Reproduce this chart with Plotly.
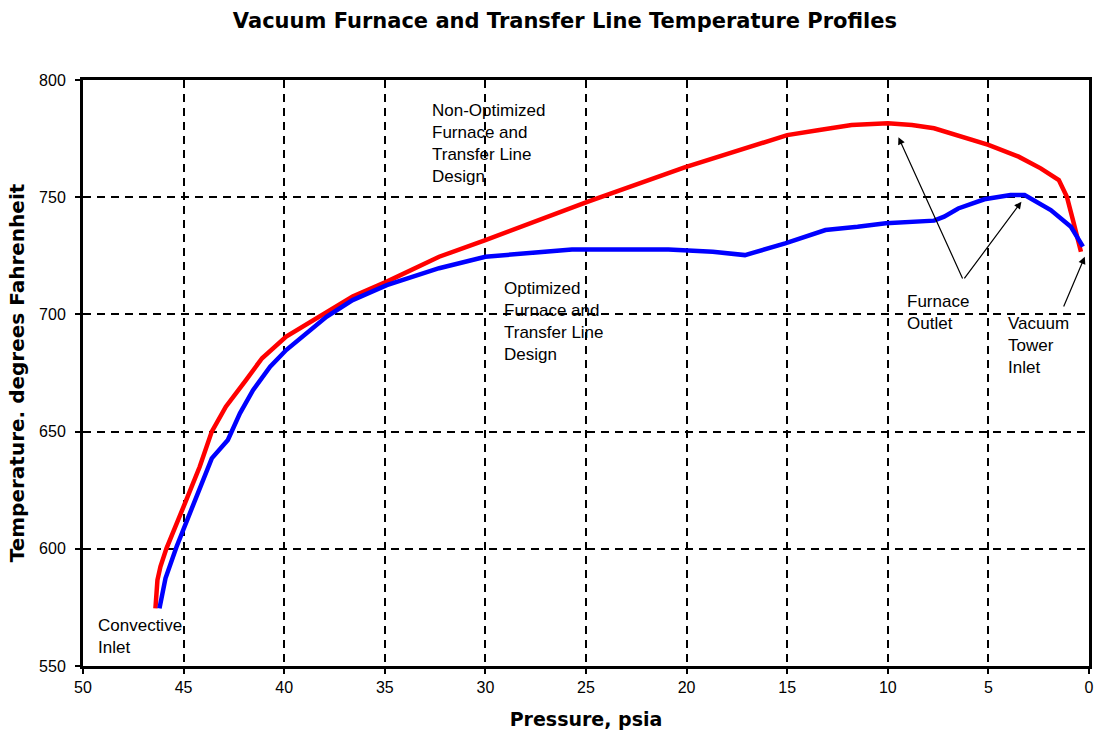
import plotly.graph_objects as go

# Non-optimized design (red)
red_p = [46.4, 46.3, 46.15, 45.85, 45.0, 44.2, 43.6, 42.9, 41.9, 41.1, 39.9, 38.4, 36.6, 34.9,
         32.3, 30.0, 24.9, 20.1, 15.0, 13.4, 11.8, 10.0, 8.8, 7.7, 6.3, 5.0, 3.5, 2.4, 1.5, 1.1, 0.8, 0.4]
red_t = [574.6, 586.7, 592.4, 600.2, 618.0, 635.0, 650.0, 660.6, 672.0, 681.3, 690.5, 698.3, 707.6, 714.0,
         724.6, 731.7, 748.1, 762.7, 776.5, 778.7, 780.8, 781.5, 780.8, 779.4, 775.8, 772.3, 767.3, 762.3,
         757.3, 750.2, 740.3, 726.7]

# Optimized design (blue)
blue_p = [46.2, 45.9, 45.35, 44.5, 43.9, 43.6, 42.8, 42.2, 41.55, 40.7, 39.9, 38.9, 37.9, 36.6, 34.9,
          32.3, 30.0, 25.7, 20.9, 18.7, 17.1, 15.1, 13.1, 11.5, 10.1, 7.7, 7.2, 6.5, 5.2, 3.9, 3.2, 1.9, 0.9, 0.3]
blue_t = [574.6, 587.4, 600.9, 619.4, 632.9, 638.6, 646.4, 657.8, 667.7, 677.7, 684.8, 691.9, 699.0, 706.1,
          712.5, 719.7, 724.6, 727.7, 727.7, 726.7, 725.3, 730.3, 736.0, 737.4, 738.9, 740.0, 741.7, 745.2,
          749.1, 750.9, 750.9, 744.5, 737.4, 728.9]

x_ticks = [50, 45, 40, 35, 30, 25, 20, 15, 10, 5, 0]
y_ticks = [550, 600, 650, 700, 750, 800]

fig = go.Figure()
fig.add_trace(go.Scatter(x=red_p, y=red_t, mode="lines", line=dict(color="#FF0000", width=4.5),
                         name="Non-Optimized", showlegend=False))
fig.add_trace(go.Scatter(x=blue_p, y=blue_t, mode="lines", line=dict(color="#0000FF", width=4.5),
                         name="Optimized", showlegend=False))

txt_font = dict(family="Liberation Sans, Arial", size=17, color="black")
labels = [
    ("Non-Optimized<br>Furnace and<br>Transfer Line<br>Design", 32.74, 792.0),
    ("Optimized<br>Furnace and<br>Transfer Line<br>Design", 29.17, 716.0),
    ("Convective<br>Inlet", 49.36, 572.0),
    ("Furnace<br>Outlet", 9.13, 710.5),
    ("Vacuum<br>Tower<br>Inlet", 4.12, 701.0),
]
for t, x, y in labels:
    fig.add_annotation(text=t, x=x, y=y, xref="x", yref="y", xanchor="left", yanchor="top",
                       align="left", showarrow=False, font=txt_font)

arrows = [
    (9.47, 775.6, 6.25, 714.7),
    (3.36, 748.1, 6.25, 714.7),
    (0.21, 724.6, 1.29, 702.7),
]
for x, y, ax, ay in arrows:
    fig.add_annotation(text="", x=x, y=y, ax=ax, ay=ay, xref="x", yref="y", axref="x", ayref="y",
                       showarrow=True, arrowhead=2, arrowsize=1.2, arrowwidth=1.2, arrowcolor="black",
                       standoff=0, startstandoff=0)

fig.update_layout(
    width=1097, height=731,
    margin=dict(l=83, r=8, t=80, b=65),
    paper_bgcolor="white", plot_bgcolor="white",
    title=dict(text="<b>Vacuum Furnace and Transfer Line Temperature Profiles</b>",
               font=dict(family="DejaVu Sans", size=21, color="black"),
               x=0.515, xanchor="center", yref="container", y=0.972, yanchor="middle"),
    showlegend=False,
)
fig.update_xaxes(
    range=[50, 0], tickvals=x_ticks, ticktext=[str(v) for v in x_ticks],
    showgrid=True, gridcolor="black", griddash="8px,6px", gridwidth=1.6,
    showline=True, mirror=True, linecolor="black", linewidth=3,
    ticks="outside", ticklen=5, tickwidth=1.5, tickcolor="black",
    tickfont=dict(family="Liberation Sans, Arial", size=16, color="black"),
    title=dict(text="<b>Pressure, psia</b>", font=dict(family="DejaVu Sans", size=19, color="black"),
               standoff=18),
    zeroline=False, automargin=False,
)
fig.update_yaxes(
    range=[550, 800], tickvals=y_ticks,
    showgrid=True, gridcolor="black", griddash="8px,6px", gridwidth=1.6,
    showline=True, mirror=True, linecolor="black", linewidth=3,
    ticks="outside", ticklen=5, tickwidth=1.5, tickcolor="black", ticklabelstandoff=6,
    tickfont=dict(family="Liberation Sans, Arial", size=16, color="black"),
    title=dict(text="<b>Temperature. degrees Fahrenheit</b>",
               font=dict(family="DejaVu Sans", size=20, color="black"), standoff=10),
    zeroline=False, automargin=False,
)

fig.write_html("out.html", config={"displayModeBar": False},
               post_script="document.body.style.margin='0';")
